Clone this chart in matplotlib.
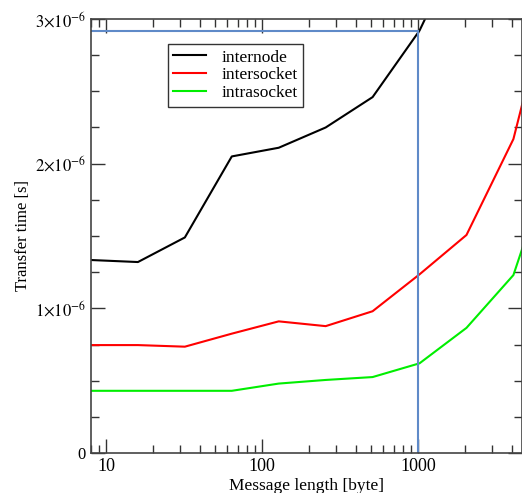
import numpy as np
import matplotlib
matplotlib.use('Agg')
import matplotlib.pyplot as plt
from matplotlib.ticker import FuncFormatter, MultipleLocator, LogLocator, NullFormatter

# message sizes [byte]
msg_len = [4, 8, 16, 32, 64, 128, 256, 512, 1024, 2048, 4096, 8192]

# transfer times [s]
internode = [1.334e-6, 1.334e-6, 1.32e-6, 1.49e-6, 2.05e-6, 2.11e-6, 2.25e-6, 2.46e-6, 2.92e-6, 3.6e-6, 4.5e-6, 6.0e-6]
intersocket = [0.746e-6, 0.746e-6, 0.746e-6, 0.735e-6, 0.825e-6, 0.91e-6, 0.877e-6, 0.98e-6, 1.235e-6, 1.507e-6, 2.17e-6, 3.45e-6]
intrasocket = [0.43e-6, 0.43e-6, 0.43e-6, 0.43e-6, 0.43e-6, 0.48e-6, 0.505e-6, 0.525e-6, 0.62e-6, 0.865e-6, 1.23e-6, 2.2e-6]

# blue marker lines
mark_x = 1000
mark_y = 2.915e-6

plt.rcParams['font.family'] = ['Liberation Serif', 'DejaVu Serif']
plt.rcParams['mathtext.fontset'] = 'stix'

fig = plt.figure(figsize=(5.22, 4.93), dpi=100)
ax = fig.add_axes([0.1743, 0.0811, 0.8257, 0.8804])

ax.plot(msg_len, internode, color='black', lw=1.5, label='internode')
ax.plot(msg_len, intersocket, color='#ff0000', lw=1.5, label='intersocket')
ax.plot(msg_len, intrasocket, color='#00ee00', lw=1.5, label='intrasocket')

ax.plot([1, mark_x], [mark_y, mark_y], color='#5f8ac8', lw=1.5)
ax.plot([mark_x, mark_x], [0, mark_y], color='#5f8ac8', lw=1.5)

ax.set_xscale('log')
ax.set_xlim(8, 4650)
ax.set_ylim(0, 3e-6)

ax.xaxis.set_major_locator(LogLocator(base=10))
ax.xaxis.set_minor_locator(LogLocator(base=10, subs=np.arange(2, 10)))
ax.xaxis.set_minor_formatter(NullFormatter())
ax.xaxis.set_major_formatter(FuncFormatter(lambda v, p: '%d' % v))

def yfmt(v, p):
    n = int(round(v * 1e6))
    if n == 0:
        return '0'
    return r'$%d{\times}10^{-6}$' % n

ax.yaxis.set_major_locator(MultipleLocator(1e-6))
ax.yaxis.set_minor_locator(MultipleLocator(0.25e-6))
ax.yaxis.set_major_formatter(FuncFormatter(yfmt))

ax.tick_params(which='both', direction='in', top=True, right=True, color='#333333')
ax.tick_params(axis='x', labelsize=13)
ax.tick_params(axis='y', labelsize=12)
ax.tick_params(which='major', length=10, width=1)
ax.tick_params(which='minor', length=6, width=1)
for s in ax.spines.values():
    s.set_color('#444444')
    s.set_linewidth(1.2)

ax.set_xlabel('Message length [byte]', fontsize=12.5, labelpad=2)
ax.set_ylabel('Transfer time [s]', fontsize=12)
ax.yaxis.set_label_coords(-0.14, 0.5)

leg = ax.legend(loc='upper left', bbox_to_anchor=(0.178, 0.942), fontsize=12.5,
                frameon=True, fancybox=False, edgecolor='black', handlelength=1.9,
                borderpad=0.3, labelspacing=0.1, handletextpad=0.9, borderaxespad=0)
leg.get_frame().set_linewidth(1.0)

fig.savefig('out.png', dpi=100)
